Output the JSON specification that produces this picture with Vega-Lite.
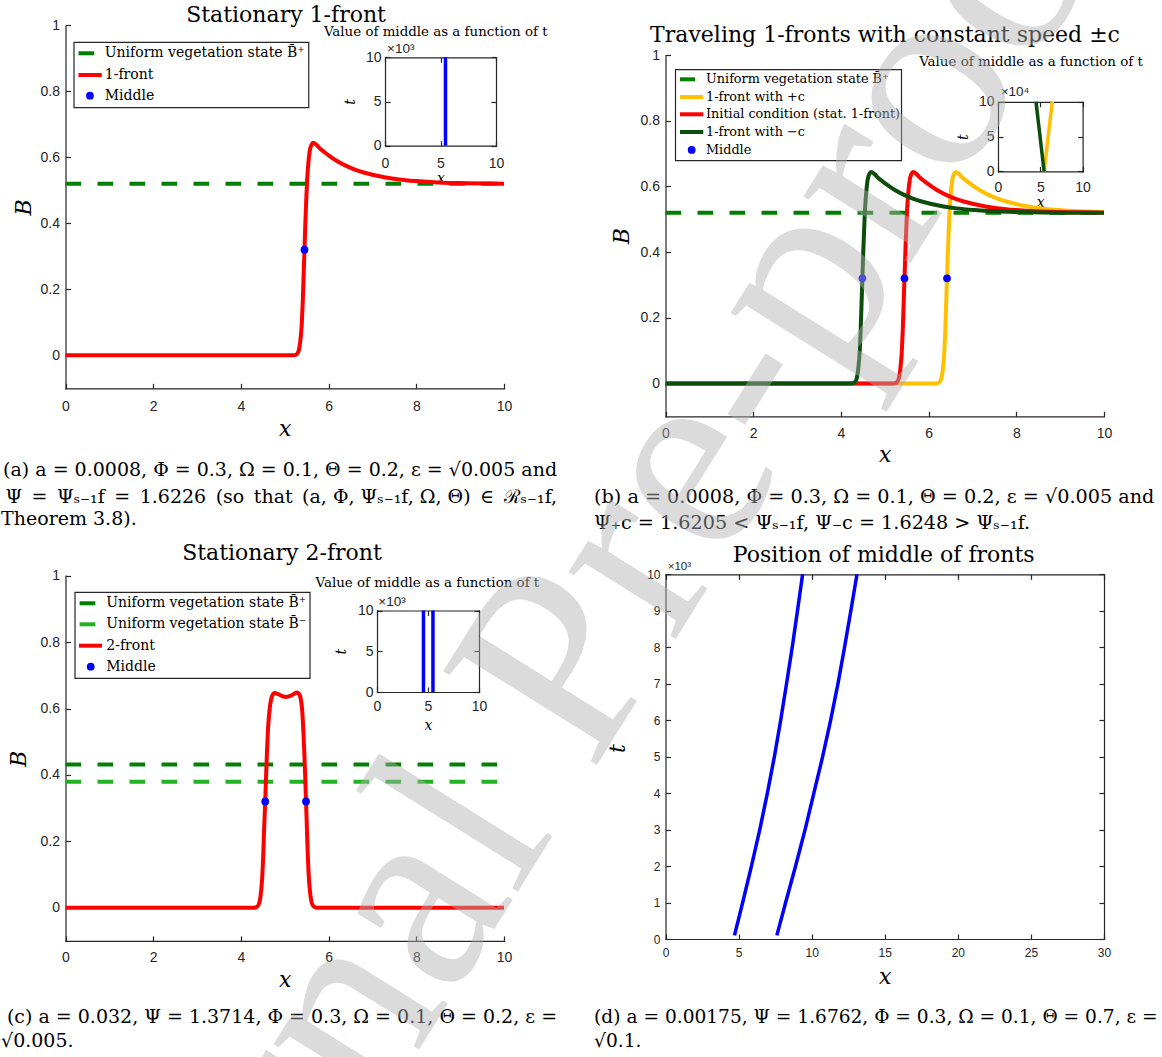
{
"$schema": "https://vega.github.io/schema/vega-lite/v6.json",
"width": 1162, "height": 1057, "autosize": {"type": "none"}, "padding": 0, "background": "#ffffff",
"datasets": {
"uniformA": [{"x":0,"y":0.52},{"x":10,"y":0.52}],
"frontA": [{"x":0,"y":0},{"x":5.2,"y":0},{"x":5.27,"y":0.003},{"x":5.32,"y":0.015},{"x":5.36,"y":0.05},{"x":5.39,"y":0.1},{"x":5.41,"y":0.16},{"x":5.43,"y":0.24},{"x":5.45,"y":0.32},{"x":5.47,"y":0.4},{"x":5.49,"y":0.47},{"x":5.51,"y":0.53},{"x":5.54,"y":0.585},{"x":5.57,"y":0.62},{"x":5.61,"y":0.638},{"x":5.65,"y":0.644},{"x":5.72,"y":0.638},{"x":5.8,"y":0.627},{"x":5.9,"y":0.616},{"x":6.0,"y":0.606},{"x":6.2,"y":0.588},{"x":6.4,"y":0.574},{"x":6.6,"y":0.563},{"x":6.8,"y":0.554},{"x":7.0,"y":0.547},{"x":7.3,"y":0.539},{"x":7.6,"y":0.533},{"x":8.0,"y":0.528},{"x":8.5,"y":0.524},{"x":9.0,"y":0.522},{"x":10,"y":0.52}],
"middleA": [{"x":5.45,"y":0.32}],
"uniformB": [{"x":0,"y":0.52},{"x":10,"y":0.52}],
"frontBplus": [{"x":0,"y":0},{"x":6.17,"y":0},{"x":6.24,"y":0.003},{"x":6.29,"y":0.015},{"x":6.33,"y":0.05},{"x":6.36,"y":0.1},{"x":6.38,"y":0.16},{"x":6.40,"y":0.24},{"x":6.42,"y":0.32},{"x":6.44,"y":0.4},{"x":6.46,"y":0.47},{"x":6.48,"y":0.53},{"x":6.51,"y":0.585},{"x":6.54,"y":0.62},{"x":6.58,"y":0.638},{"x":6.62,"y":0.644},{"x":6.69,"y":0.638},{"x":6.77,"y":0.627},{"x":6.87,"y":0.616},{"x":6.97,"y":0.606},{"x":7.17,"y":0.588},{"x":7.37,"y":0.574},{"x":7.57,"y":0.563},{"x":7.77,"y":0.554},{"x":7.97,"y":0.547},{"x":8.27,"y":0.539},{"x":8.57,"y":0.533},{"x":8.97,"y":0.528},{"x":9.47,"y":0.524},{"x":9.97,"y":0.522},{"x":10,"y":0.522}],
"frontBinit": [{"x":0,"y":0},{"x":5.2,"y":0},{"x":5.27,"y":0.003},{"x":5.32,"y":0.015},{"x":5.36,"y":0.05},{"x":5.39,"y":0.1},{"x":5.41,"y":0.16},{"x":5.43,"y":0.24},{"x":5.45,"y":0.32},{"x":5.47,"y":0.4},{"x":5.49,"y":0.47},{"x":5.51,"y":0.53},{"x":5.54,"y":0.585},{"x":5.57,"y":0.62},{"x":5.61,"y":0.638},{"x":5.65,"y":0.644},{"x":5.72,"y":0.638},{"x":5.8,"y":0.627},{"x":5.9,"y":0.616},{"x":6.0,"y":0.606},{"x":6.2,"y":0.588},{"x":6.4,"y":0.574},{"x":6.6,"y":0.563},{"x":6.8,"y":0.554},{"x":7.0,"y":0.547},{"x":7.3,"y":0.539},{"x":7.6,"y":0.533},{"x":8.0,"y":0.528},{"x":8.5,"y":0.524},{"x":9.0,"y":0.522},{"x":10,"y":0.52}],
"frontBminus": [{"x":0,"y":0},{"x":4.24,"y":0},{"x":4.31,"y":0.003},{"x":4.36,"y":0.015},{"x":4.40,"y":0.05},{"x":4.43,"y":0.1},{"x":4.45,"y":0.16},{"x":4.47,"y":0.24},{"x":4.49,"y":0.32},{"x":4.51,"y":0.4},{"x":4.53,"y":0.47},{"x":4.55,"y":0.53},{"x":4.58,"y":0.585},{"x":4.61,"y":0.62},{"x":4.65,"y":0.638},{"x":4.69,"y":0.644},{"x":4.76,"y":0.638},{"x":4.84,"y":0.627},{"x":4.94,"y":0.616},{"x":5.04,"y":0.606},{"x":5.24,"y":0.588},{"x":5.44,"y":0.574},{"x":5.64,"y":0.563},{"x":5.84,"y":0.554},{"x":6.04,"y":0.547},{"x":6.34,"y":0.539},{"x":6.64,"y":0.533},{"x":7.04,"y":0.528},{"x":7.54,"y":0.524},{"x":8.04,"y":0.522},{"x":9.04,"y":0.52},{"x":10,"y":0.52}],
"middleB": [{"x":4.49,"y":0.32},{"x":5.45,"y":0.32},{"x":6.42,"y":0.32}],
"uniformCplus": [{"x":0,"y":0.431},{"x":10,"y":0.431}],
"uniformCminus": [{"x":0,"y":0.379},{"x":10,"y":0.379}],
"frontC": [{"x":0,"y":0},{"x":4.3,"y":0},{"x":4.37,"y":0.003},{"x":4.42,"y":0.015},{"x":4.46,"y":0.05},{"x":4.49,"y":0.1},{"x":4.51,"y":0.16},{"x":4.53,"y":0.24},{"x":4.555,"y":0.32},{"x":4.575,"y":0.4},{"x":4.595,"y":0.47},{"x":4.615,"y":0.53},{"x":4.645,"y":0.585},{"x":4.68,"y":0.622},{"x":4.72,"y":0.64},{"x":4.77,"y":0.647},{"x":4.85,"y":0.643},{"x":4.95,"y":0.637},{"x":5.03,"y":0.635},{"x":5.11,"y":0.637},{"x":5.2,"y":0.643},{"x":5.28,"y":0.648},{"x":5.33,"y":0.643},{"x":5.37,"y":0.625},{"x":5.4,"y":0.59},{"x":5.425,"y":0.53},{"x":5.445,"y":0.47},{"x":5.465,"y":0.4},{"x":5.485,"y":0.32},{"x":5.505,"y":0.24},{"x":5.525,"y":0.16},{"x":5.545,"y":0.1},{"x":5.575,"y":0.05},{"x":5.615,"y":0.015},{"x":5.665,"y":0.003},{"x":5.73,"y":0},{"x":10,"y":0}],
"middleC": [{"x":4.555,"y":0.32},{"x":5.485,"y":0.32}],
"insetA": [{"x":5.45,"t":0},{"x":5.45,"t":10}],
"insetBplus": [{"x":5.45,"t":0},{"x":6.42,"t":10}],
"insetBminus": [{"x":5.45,"t":0},{"x":4.49,"t":10}],
"insetC": [{"front":"left","x":4.555,"t":0},{"front":"left","x":4.555,"t":10},{"front":"right","x":5.485,"t":0},{"front":"right","x":5.485,"t":10}],
"middleD": [{"front":"first","x":4.72,"t":0.1},{"front":"first","x":5.28,"t":1},{"front":"first","x":5.88,"t":2},{"front":"first","x":6.45,"t":3},{"front":"first","x":6.97,"t":4},{"front":"first","x":7.45,"t":5},{"front":"first","x":7.88,"t":6},{"front":"first","x":8.28,"t":7},{"front":"first","x":8.67,"t":8},{"front":"first","x":9.03,"t":9},{"front":"first","x":9.38,"t":10},
{"front":"second","x":7.62,"t":0.1},{"front":"second","x":8.22,"t":1},{"front":"second","x":8.9,"t":2},{"front":"second","x":9.55,"t":3},{"front":"second","x":10.15,"t":4},{"front":"second","x":10.75,"t":5},{"front":"second","x":11.3,"t":6},{"front":"second","x":11.8,"t":7},{"front":"second","x":12.25,"t":8},{"front":"second","x":12.68,"t":9},{"front":"second","x":13.1,"t":10}]
},
"resolve": {"scale": {"x": "independent", "y": "independent"}, "axis": {"x": "independent", "y": "independent"}},
"layer": [
{"data":{"name":"uniformA"},"mark":{"type":"point","opacity":0},
 "encoding":{"x":{"field":"x","type":"quantitative","scale":{"domain":[0,10],"range":[65.5,504],"nice":false,"zero":false},"axis":{"orient":"bottom","offset":-668.7,"values":[0,2,4,6,8,10],"format":"d","title":"x","titleY":40,"titleBaseline":"middle","labelPadding":15.9}},
  "y":{"field":"y","type":"quantitative","scale":{"domain":[-0.1,1],"range":[388.3,25.3],"nice":false,"zero":false},"axis":{"orient":"left","offset":-65.5,"values":[0,0.2,0.4,0.6,0.8,1],"format":".1~f","title":"B","titleX":-42,"titleBaseline":"middle","labelPadding":11}}}},
{"layer": [
 {"data":{"name":"uniformA"},"mark":{"type":"line","color":"#008000","strokeWidth":4,"strokeDash":[15.7,16.3]},
  "encoding":{"x":{"field":"x","type":"quantitative","scale":{"domain":[0,10],"range":[65.5,504],"nice":false,"zero":false},"axis":null},
   "y":{"field":"y","type":"quantitative","scale":{"domain":[-0.1,1],"range":[388.3,25.3],"nice":false,"zero":false},"axis":null}}},
 {"data":{"name":"frontA"},"mark":{"type":"line","color":"#ff0000","strokeWidth":4,"interpolate":"monotone"},
  "encoding":{"x":{"field":"x","type":"quantitative","scale":{"domain":[0,10],"range":[65.5,504],"nice":false,"zero":false},"axis":null},
   "y":{"field":"y","type":"quantitative","scale":{"domain":[-0.1,1],"range":[388.3,25.3],"nice":false,"zero":false},"axis":null}}},
 {"data":{"name":"middleA"},"mark":{"type":"point","filled":true,"color":"#0000ff","size":60,"opacity":1},
  "encoding":{"x":{"field":"x","type":"quantitative","scale":{"domain":[0,10],"range":[65.5,504],"nice":false,"zero":false},"axis":null},
   "y":{"field":"y","type":"quantitative","scale":{"domain":[-0.1,1],"range":[388.3,25.3],"nice":false,"zero":false},"axis":null}}},
 {"data":{"values":[{}]},"mark":{"type":"rect","fill":"#ffffff","stroke":"#262626","strokeWidth":1.2},
  "encoding":{"x":{"datum":0.194,"type":"quantitative","scale":{"domain":[0,10],"range":[65.5,504],"nice":false,"zero":false},"axis":null},"x2":{"datum":5.547},
   "y":{"datum":0.9485,"type":"quantitative","scale":{"domain":[-0.1,1],"range":[388.3,25.3],"nice":false,"zero":false},"axis":null},"y2":{"datum":0.7503}}},
 {"data":{"values":[{}]},"mark":{"type":"rule","color":"#008000","strokeWidth":4,"strokeDash":[15.7,16.3]},
  "encoding":{"x":{"datum":0.296,"type":"quantitative","scale":{"domain":[0,10],"range":[65.5,504],"nice":false,"zero":false},"axis":null},"x2":{"datum":0.718},
   "y":{"datum":0.9152,"type":"quantitative","scale":{"domain":[-0.1,1],"range":[388.3,25.3],"nice":false,"zero":false},"axis":null}}},
 {"data":{"values":[{}]},"mark":{"type":"rule","color":"#ff0000","strokeWidth":4},
  "encoding":{"x":{"datum":0.296,"type":"quantitative","scale":{"domain":[0,10],"range":[65.5,504],"nice":false,"zero":false},"axis":null},"x2":{"datum":0.827},
   "y":{"datum":0.8494,"type":"quantitative","scale":{"domain":[-0.1,1],"range":[388.3,25.3],"nice":false,"zero":false},"axis":null}}},
 {"data":{"values":[{}]},"mark":{"type":"point","filled":true,"color":"#0000ff","size":60,"opacity":1},
  "encoding":{"x":{"datum":0.558,"type":"quantitative","scale":{"domain":[0,10],"range":[65.5,504],"nice":false,"zero":false},"axis":null},
   "y":{"datum":0.7867,"type":"quantitative","scale":{"domain":[-0.1,1],"range":[388.3,25.3],"nice":false,"zero":false},"axis":null}}},
 {"data":{"values":[{}]},"mark":{"type":"text","text":"Uniform vegetation state B\u0304\u207a","font":"DejaVu Serif","fontSize":14,"align":"left","baseline":"middle"},
  "encoding":{"x":{"datum":0.895,"type":"quantitative","scale":{"domain":[0,10],"range":[65.5,504],"nice":false,"zero":false},"axis":null},
   "y":{"datum":0.9152,"type":"quantitative","scale":{"domain":[-0.1,1],"range":[388.3,25.3],"nice":false,"zero":false},"axis":null}}},
 {"data":{"values":[{}]},"mark":{"type":"text","text":"1-front","font":"DejaVu Serif","fontSize":14,"align":"left","baseline":"middle"},
  "encoding":{"x":{"datum":0.895,"type":"quantitative","scale":{"domain":[0,10],"range":[65.5,504],"nice":false,"zero":false},"axis":null},
   "y":{"datum":0.8494,"type":"quantitative","scale":{"domain":[-0.1,1],"range":[388.3,25.3],"nice":false,"zero":false},"axis":null}}},
 {"data":{"values":[{}]},"mark":{"type":"text","text":"Middle","font":"DejaVu Serif","fontSize":14,"align":"left","baseline":"middle"},
  "encoding":{"x":{"datum":0.895,"type":"quantitative","scale":{"domain":[0,10],"range":[65.5,504],"nice":false,"zero":false},"axis":null},
   "y":{"datum":0.7867,"type":"quantitative","scale":{"domain":[-0.1,1],"range":[388.3,25.3],"nice":false,"zero":false},"axis":null}}},
 {"data":{"values":[{}]},"mark":{"type":"text","text":"Stationary 1-front","font":"DejaVu Serif","fontSize":22,"align":"center","baseline":"middle"},
  "encoding":{"x":{"datum":5.03,"type":"quantitative","scale":{"domain":[0,10],"range":[65.5,504],"nice":false,"zero":false},"axis":null},
   "y":{"datum":1.031,"type":"quantitative","scale":{"domain":[-0.1,1],"range":[388.3,25.3],"nice":false,"zero":false},"axis":null}}},
 {"data":{"values":[{}]},"mark":{"type":"text","text":"(a)   a = 0.0008, Φ = 0.3, Ω = 0.1, Θ = 0.2, ε = √0.005 and","font":"DejaVu Serif","fontSize":19,"align":"right","baseline":"middle"},
  "encoding":{"x":{"datum":11.21,"type":"quantitative","scale":{"domain":[0,10],"range":[65.5,504],"nice":false,"zero":false},"axis":null},
   "y":{"datum":-0.3476,"type":"quantitative","scale":{"domain":[-0.1,1],"range":[388.3,25.3],"nice":false,"zero":false},"axis":null}}},
 {"data":{"values":[{}]},"mark":{"type":"text","text":"Ψ\u2002=\u2002Ψₛ₋₁f\u2002=\u20021.6226\u2002(so\u2002that\u2002(a, Φ, Ψₛ₋₁f, Ω, Θ)\u2002∈\u2002ℛₛ₋₁f,","font":"DejaVu Serif","fontSize":19,"align":"right","baseline":"middle"},
  "encoding":{"x":{"datum":11.21,"type":"quantitative","scale":{"domain":[0,10],"range":[65.5,504],"nice":false,"zero":false},"axis":null},
   "y":{"datum":-0.4279,"type":"quantitative","scale":{"domain":[-0.1,1],"range":[388.3,25.3],"nice":false,"zero":false},"axis":null}}},
 {"data":{"values":[{}]},"mark":{"type":"text","text":"Theorem 3.8).","font":"DejaVu Serif","fontSize":19,"align":"left","baseline":"middle"},
  "encoding":{"x":{"datum":-1.47,"type":"quantitative","scale":{"domain":[0,10],"range":[65.5,504],"nice":false,"zero":false},"axis":null},
   "y":{"datum":-0.4961,"type":"quantitative","scale":{"domain":[-0.1,1],"range":[388.3,25.3],"nice":false,"zero":false},"axis":null}}}
]},
{"data":{"name":"uniformB"},"mark":{"type":"point","opacity":0},
 "encoding":{"x":{"field":"x","type":"quantitative","scale":{"domain":[0,10],"range":[665.5,1104],"nice":false,"zero":false},"axis":{"orient":"bottom","offset":-640.7,"values":[0,2,4,6,8,10],"format":"d","title":"x","titleY":37.7,"titleBaseline":"middle","labelPadding":15}},
  "y":{"field":"y","type":"quantitative","scale":{"domain":[-0.1,1],"range":[416.3,55],"nice":false,"zero":false},"axis":{"orient":"left","offset":-665.5,"values":[0,0.2,0.4,0.6,0.8,1],"format":".1~f","title":"B","titleX":-44.5,"titleBaseline":"middle","labelPadding":11}}}},
{"layer": [
 {"data":{"name":"uniformB"},"mark":{"type":"line","color":"#008000","strokeWidth":4,"strokeDash":[15.7,16.3]},
  "encoding":{"x":{"field":"x","type":"quantitative","scale":{"domain":[0,10],"range":[665.5,1104],"nice":false,"zero":false},"axis":null},
   "y":{"field":"y","type":"quantitative","scale":{"domain":[-0.1,1],"range":[416.3,55],"nice":false,"zero":false},"axis":null}}},
 {"data":{"name":"frontBplus"},"mark":{"type":"line","color":"#ffc000","strokeWidth":4,"interpolate":"monotone"},
  "encoding":{"x":{"field":"x","type":"quantitative","scale":{"domain":[0,10],"range":[665.5,1104],"nice":false,"zero":false},"axis":null},
   "y":{"field":"y","type":"quantitative","scale":{"domain":[-0.1,1],"range":[416.3,55],"nice":false,"zero":false},"axis":null}}},
 {"data":{"name":"frontBinit"},"mark":{"type":"line","color":"#ff0000","strokeWidth":4,"interpolate":"monotone"},
  "encoding":{"x":{"field":"x","type":"quantitative","scale":{"domain":[0,10],"range":[665.5,1104],"nice":false,"zero":false},"axis":null},
   "y":{"field":"y","type":"quantitative","scale":{"domain":[-0.1,1],"range":[416.3,55],"nice":false,"zero":false},"axis":null}}},
 {"data":{"name":"frontBminus"},"mark":{"type":"line","color":"#0b4d0b","strokeWidth":4,"interpolate":"monotone"},
  "encoding":{"x":{"field":"x","type":"quantitative","scale":{"domain":[0,10],"range":[665.5,1104],"nice":false,"zero":false},"axis":null},
   "y":{"field":"y","type":"quantitative","scale":{"domain":[-0.1,1],"range":[416.3,55],"nice":false,"zero":false},"axis":null}}},
 {"data":{"name":"middleB"},"mark":{"type":"point","filled":true,"color":"#0000ff","size":60,"opacity":1},
  "encoding":{"x":{"field":"x","type":"quantitative","scale":{"domain":[0,10],"range":[665.5,1104],"nice":false,"zero":false},"axis":null},
   "y":{"field":"y","type":"quantitative","scale":{"domain":[-0.1,1],"range":[416.3,55],"nice":false,"zero":false},"axis":null}}},
 {"data":{"values":[{}]},"mark":{"type":"rect","fill":"#ffffff","stroke":"#262626","strokeWidth":1.2},
  "encoding":{"x":{"datum":0.228,"type":"quantitative","scale":{"domain":[0,10],"range":[665.5,1104],"nice":false,"zero":false},"axis":null},"x2":{"datum":5.382},
   "y":{"datum":0.9556,"type":"quantitative","scale":{"domain":[-0.1,1],"range":[416.3,55],"nice":false,"zero":false},"axis":null},"y2":{"datum":0.6782}}},
 {"data":{"values":[{}]},"mark":{"type":"rule","color":"#008000","strokeWidth":4,"strokeDash":[15.7,16.3]},
  "encoding":{"x":{"datum":0.33,"type":"quantitative","scale":{"domain":[0,10],"range":[665.5,1104],"nice":false,"zero":false},"axis":null},"x2":{"datum":0.673},
   "y":{"datum":0.926,"type":"quantitative","scale":{"domain":[-0.1,1],"range":[416.3,55],"nice":false,"zero":false},"axis":null}}},
 {"data":{"values":[{}]},"mark":{"type":"rule","color":"#ffc000","strokeWidth":4},
  "encoding":{"x":{"datum":0.33,"type":"quantitative","scale":{"domain":[0,10],"range":[665.5,1104],"nice":false,"zero":false},"axis":null},"x2":{"datum":0.862},
   "y":{"datum":0.872,"type":"quantitative","scale":{"domain":[-0.1,1],"range":[416.3,55],"nice":false,"zero":false},"axis":null}}},
 {"data":{"values":[{}]},"mark":{"type":"rule","color":"#ff0000","strokeWidth":4},
  "encoding":{"x":{"datum":0.33,"type":"quantitative","scale":{"domain":[0,10],"range":[665.5,1104],"nice":false,"zero":false},"axis":null},"x2":{"datum":0.862},
   "y":{"datum":0.8195,"type":"quantitative","scale":{"domain":[-0.1,1],"range":[416.3,55],"nice":false,"zero":false},"axis":null}}},
 {"data":{"values":[{}]},"mark":{"type":"rule","color":"#0b4d0b","strokeWidth":4},
  "encoding":{"x":{"datum":0.33,"type":"quantitative","scale":{"domain":[0,10],"range":[665.5,1104],"nice":false,"zero":false},"axis":null},"x2":{"datum":0.862},
   "y":{"datum":0.7656,"type":"quantitative","scale":{"domain":[-0.1,1],"range":[416.3,55],"nice":false,"zero":false},"axis":null}}},
 {"data":{"values":[{}]},"mark":{"type":"point","filled":true,"color":"#0000ff","size":60,"opacity":1},
  "encoding":{"x":{"datum":0.597,"type":"quantitative","scale":{"domain":[0,10],"range":[665.5,1104],"nice":false,"zero":false},"axis":null},
   "y":{"datum":0.7108,"type":"quantitative","scale":{"domain":[-0.1,1],"range":[416.3,55],"nice":false,"zero":false},"axis":null}}},
 {"data":{"values":[{}]},"mark":{"type":"text","text":"Uniform vegetation state B\u0304\u207a","font":"DejaVu Serif","fontSize":12.8,"align":"left","baseline":"middle"},
  "encoding":{"x":{"datum":0.924,"type":"quantitative","scale":{"domain":[0,10],"range":[665.5,1104],"nice":false,"zero":false},"axis":null},
   "y":{"datum":0.926,"type":"quantitative","scale":{"domain":[-0.1,1],"range":[416.3,55],"nice":false,"zero":false},"axis":null}}},
 {"data":{"values":[{}]},"mark":{"type":"text","text":"1-front with +c","font":"DejaVu Serif","fontSize":12.8,"align":"left","baseline":"middle"},
  "encoding":{"x":{"datum":0.924,"type":"quantitative","scale":{"domain":[0,10],"range":[665.5,1104],"nice":false,"zero":false},"axis":null},
   "y":{"datum":0.872,"type":"quantitative","scale":{"domain":[-0.1,1],"range":[416.3,55],"nice":false,"zero":false},"axis":null}}},
 {"data":{"values":[{}]},"mark":{"type":"text","text":"Initial condition (stat. 1-front)","font":"DejaVu Serif","fontSize":12.8,"align":"left","baseline":"middle"},
  "encoding":{"x":{"datum":0.924,"type":"quantitative","scale":{"domain":[0,10],"range":[665.5,1104],"nice":false,"zero":false},"axis":null},
   "y":{"datum":0.8195,"type":"quantitative","scale":{"domain":[-0.1,1],"range":[416.3,55],"nice":false,"zero":false},"axis":null}}},
 {"data":{"values":[{}]},"mark":{"type":"text","text":"1-front with −c","font":"DejaVu Serif","fontSize":12.8,"align":"left","baseline":"middle"},
  "encoding":{"x":{"datum":0.924,"type":"quantitative","scale":{"domain":[0,10],"range":[665.5,1104],"nice":false,"zero":false},"axis":null},
   "y":{"datum":0.7656,"type":"quantitative","scale":{"domain":[-0.1,1],"range":[416.3,55],"nice":false,"zero":false},"axis":null}}},
 {"data":{"values":[{}]},"mark":{"type":"text","text":"Middle","font":"DejaVu Serif","fontSize":12.8,"align":"left","baseline":"middle"},
  "encoding":{"x":{"datum":0.924,"type":"quantitative","scale":{"domain":[0,10],"range":[665.5,1104],"nice":false,"zero":false},"axis":null},
   "y":{"datum":0.7108,"type":"quantitative","scale":{"domain":[-0.1,1],"range":[416.3,55],"nice":false,"zero":false},"axis":null}}},
 {"data":{"values":[{}]},"mark":{"type":"text","text":"Traveling 1-fronts with constant speed ±c","font":"DejaVu Serif","fontSize":22,"align":"center","baseline":"middle"},
  "encoding":{"x":{"datum":5.006,"type":"quantitative","scale":{"domain":[0,10],"range":[665.5,1104],"nice":false,"zero":false},"axis":null},
   "y":{"datum":1.0609,"type":"quantitative","scale":{"domain":[-0.1,1],"range":[416.3,55],"nice":false,"zero":false},"axis":null}}},
 {"data":{"values":[{}]},"mark":{"type":"text","text":"(b)   a = 0.0008, Φ = 0.3, Ω = 0.1, Θ = 0.2, ε = √0.005 and","font":"DejaVu Serif","fontSize":19.2,"align":"left","baseline":"middle"},
  "encoding":{"x":{"datum":-1.63,"type":"quantitative","scale":{"domain":[0,10],"range":[665.5,1104],"nice":false,"zero":false},"axis":null},
   "y":{"datum":-0.3442,"type":"quantitative","scale":{"domain":[-0.1,1],"range":[416.3,55],"nice":false,"zero":false},"axis":null}}},
 {"data":{"values":[{}]},"mark":{"type":"text","text":"Ψ₊c = 1.6205 < Ψₛ₋₁f, Ψ₋c = 1.6248 > Ψₛ₋₁f.","font":"DejaVu Serif","fontSize":19.2,"align":"left","baseline":"middle"},
  "encoding":{"x":{"datum":-1.63,"type":"quantitative","scale":{"domain":[0,10],"range":[665.5,1104],"nice":false,"zero":false},"axis":null},
   "y":{"datum":-0.4249,"type":"quantitative","scale":{"domain":[-0.1,1],"range":[416.3,55],"nice":false,"zero":false},"axis":null}}}
]},
{"data":{"name":"uniformCplus"},"mark":{"type":"point","opacity":0},
 "encoding":{"x":{"field":"x","type":"quantitative","scale":{"domain":[0,10],"range":[65.5,504],"nice":false,"zero":false},"axis":{"orient":"bottom","offset":-116.1,"values":[0,2,4,6,8,10],"format":"d","title":"x","titleY":39,"titleBaseline":"middle","labelPadding":15}},
  "y":{"field":"y","type":"quantitative","scale":{"domain":[-0.1,1],"range":[940.9,575.7],"nice":false,"zero":false},"axis":{"orient":"left","offset":-65.5,"values":[0,0.2,0.4,0.6,0.8,1],"format":".1~f","title":"B","titleX":-47,"titleBaseline":"middle","labelPadding":11}}}},
{"layer": [
 {"data":{"name":"uniformCplus"},"mark":{"type":"line","color":"#008000","strokeWidth":4,"strokeDash":[15.7,16.3]},
  "encoding":{"x":{"field":"x","type":"quantitative","scale":{"domain":[0,10],"range":[65.5,504],"nice":false,"zero":false},"axis":null},
   "y":{"field":"y","type":"quantitative","scale":{"domain":[-0.1,1],"range":[940.9,575.7],"nice":false,"zero":false},"axis":null}}},
 {"data":{"name":"uniformCminus"},"mark":{"type":"line","color":"#1fb31f","strokeWidth":4,"strokeDash":[15.7,16.3]},
  "encoding":{"x":{"field":"x","type":"quantitative","scale":{"domain":[0,10],"range":[65.5,504],"nice":false,"zero":false},"axis":null},
   "y":{"field":"y","type":"quantitative","scale":{"domain":[-0.1,1],"range":[940.9,575.7],"nice":false,"zero":false},"axis":null}}},
 {"data":{"name":"frontC"},"mark":{"type":"line","color":"#ff0000","strokeWidth":4,"interpolate":"monotone"},
  "encoding":{"x":{"field":"x","type":"quantitative","scale":{"domain":[0,10],"range":[65.5,504],"nice":false,"zero":false},"axis":null},
   "y":{"field":"y","type":"quantitative","scale":{"domain":[-0.1,1],"range":[940.9,575.7],"nice":false,"zero":false},"axis":null}}},
 {"data":{"name":"middleC"},"mark":{"type":"point","filled":true,"color":"#0000ff","size":60,"opacity":1},
  "encoding":{"x":{"field":"x","type":"quantitative","scale":{"domain":[0,10],"range":[65.5,504],"nice":false,"zero":false},"axis":null},
   "y":{"field":"y","type":"quantitative","scale":{"domain":[-0.1,1],"range":[940.9,575.7],"nice":false,"zero":false},"axis":null}}},
 {"data":{"values":[{}]},"mark":{"type":"rect","fill":"#ffffff","stroke":"#262626","strokeWidth":1.2},
  "encoding":{"x":{"datum":0.217,"type":"quantitative","scale":{"domain":[0,10],"range":[65.5,504],"nice":false,"zero":false},"axis":null},"x2":{"datum":5.576},
   "y":{"datum":0.95,"type":"quantitative","scale":{"domain":[-0.1,1],"range":[940.9,575.7],"nice":false,"zero":false},"axis":null},"y2":{"datum":0.691}}},
 {"data":{"values":[{}]},"mark":{"type":"rule","color":"#008000","strokeWidth":4,"strokeDash":[15.7,16.3]},
  "encoding":{"x":{"datum":0.322,"type":"quantitative","scale":{"domain":[0,10],"range":[65.5,504],"nice":false,"zero":false},"axis":null},"x2":{"datum":0.702},
   "y":{"datum":0.9169,"type":"quantitative","scale":{"domain":[-0.1,1],"range":[940.9,575.7],"nice":false,"zero":false},"axis":null}}},
 {"data":{"values":[{}]},"mark":{"type":"rule","color":"#1fb31f","strokeWidth":4,"strokeDash":[15.7,16.3]},
  "encoding":{"x":{"datum":0.322,"type":"quantitative","scale":{"domain":[0,10],"range":[65.5,504],"nice":false,"zero":false},"axis":null},"x2":{"datum":0.702},
   "y":{"datum":0.8536,"type":"quantitative","scale":{"domain":[-0.1,1],"range":[940.9,575.7],"nice":false,"zero":false},"axis":null}}},
 {"data":{"values":[{}]},"mark":{"type":"rule","color":"#ff0000","strokeWidth":4},
  "encoding":{"x":{"datum":0.308,"type":"quantitative","scale":{"domain":[0,10],"range":[65.5,504],"nice":false,"zero":false},"axis":null},"x2":{"datum":0.832},
   "y":{"datum":0.7892,"type":"quantitative","scale":{"domain":[-0.1,1],"range":[940.9,575.7],"nice":false,"zero":false},"axis":null}}},
 {"data":{"values":[{}]},"mark":{"type":"point","filled":true,"color":"#0000ff","size":60,"opacity":1},
  "encoding":{"x":{"datum":0.575,"type":"quantitative","scale":{"domain":[0,10],"range":[65.5,504],"nice":false,"zero":false},"axis":null},
   "y":{"datum":0.7259,"type":"quantitative","scale":{"domain":[-0.1,1],"range":[940.9,575.7],"nice":false,"zero":false},"axis":null}}},
 {"data":{"values":[{}]},"mark":{"type":"text","text":"Uniform vegetation state B\u0304\u207a","font":"DejaVu Serif","fontSize":14,"align":"left","baseline":"middle"},
  "encoding":{"x":{"datum":0.93,"type":"quantitative","scale":{"domain":[0,10],"range":[65.5,504],"nice":false,"zero":false},"axis":null},
   "y":{"datum":0.9169,"type":"quantitative","scale":{"domain":[-0.1,1],"range":[940.9,575.7],"nice":false,"zero":false},"axis":null}}},
 {"data":{"values":[{}]},"mark":{"type":"text","text":"Uniform vegetation state B\u0304\u207b","font":"DejaVu Serif","fontSize":14,"align":"left","baseline":"middle"},
  "encoding":{"x":{"datum":0.93,"type":"quantitative","scale":{"domain":[0,10],"range":[65.5,504],"nice":false,"zero":false},"axis":null},
   "y":{"datum":0.8536,"type":"quantitative","scale":{"domain":[-0.1,1],"range":[940.9,575.7],"nice":false,"zero":false},"axis":null}}},
 {"data":{"values":[{}]},"mark":{"type":"text","text":"2-front","font":"DejaVu Serif","fontSize":14,"align":"left","baseline":"middle"},
  "encoding":{"x":{"datum":0.93,"type":"quantitative","scale":{"domain":[0,10],"range":[65.5,504],"nice":false,"zero":false},"axis":null},
   "y":{"datum":0.7892,"type":"quantitative","scale":{"domain":[-0.1,1],"range":[940.9,575.7],"nice":false,"zero":false},"axis":null}}},
 {"data":{"values":[{}]},"mark":{"type":"text","text":"Middle","font":"DejaVu Serif","fontSize":14,"align":"left","baseline":"middle"},
  "encoding":{"x":{"datum":0.93,"type":"quantitative","scale":{"domain":[0,10],"range":[65.5,504],"nice":false,"zero":false},"axis":null},
   "y":{"datum":0.7259,"type":"quantitative","scale":{"domain":[-0.1,1],"range":[940.9,575.7],"nice":false,"zero":false},"axis":null}}},
 {"data":{"values":[{}]},"mark":{"type":"text","text":"Stationary 2-front","font":"DejaVu Serif","fontSize":22,"align":"center","baseline":"middle"},
  "encoding":{"x":{"datum":4.937,"type":"quantitative","scale":{"domain":[0,10],"range":[65.5,504],"nice":false,"zero":false},"axis":null},
   "y":{"datum":1.0684,"type":"quantitative","scale":{"domain":[-0.1,1],"range":[940.9,575.7],"nice":false,"zero":false},"axis":null}}},
 {"data":{"values":[{}]},"mark":{"type":"text","text":"(c)   a = 0.032, Ψ = 1.3714, Φ = 0.3, Ω = 0.1, Θ = 0.2, ε =","font":"DejaVu Serif","fontSize":19,"align":"right","baseline":"middle"},
  "encoding":{"x":{"datum":11.21,"type":"quantitative","scale":{"domain":[0,10],"range":[65.5,504],"nice":false,"zero":false},"axis":null},
   "y":{"datum":-0.3292,"type":"quantitative","scale":{"domain":[-0.1,1],"range":[940.9,575.7],"nice":false,"zero":false},"axis":null}}},
 {"data":{"values":[{}]},"mark":{"type":"text","text":"√0.005.","font":"DejaVu Serif","fontSize":19,"align":"left","baseline":"middle"},
  "encoding":{"x":{"datum":-1.47,"type":"quantitative","scale":{"domain":[0,10],"range":[65.5,504],"nice":false,"zero":false},"axis":null},
   "y":{"datum":-0.4015,"type":"quantitative","scale":{"domain":[-0.1,1],"range":[940.9,575.7],"nice":false,"zero":false},"axis":null}}}
]},
{"data":{"name":"middleD"},"mark":{"type":"point","opacity":0},
 "encoding":{"x":{"field":"x","type":"quantitative","scale":{"domain":[0,30],"range":[665.5,1104],"nice":false,"zero":false},"axis":{"orient":"bottom","offset":-118,"values":[0,5,10,15,20,25,30],"format":"d","title":"x","titleY":37.7,"titleBaseline":"middle","labelPadding":13,"labelFontSize":12}},
  "y":{"field":"t","type":"quantitative","scale":{"domain":[0,10],"range":[939,574.3],"nice":false,"zero":false},"axis":{"orient":"left","offset":-665.5,"values":[0,1,2,3,4,5,6,7,8,9,10],"format":"d","title":"t","titleX":-48.5,"titleY":748,"titleBaseline":"middle","labelPadding":10.5,"labelFontSize":12}}}},
{"data":{"name":"middleD"},"mark":{"type":"point","opacity":0},
 "encoding":{"x":{"field":"x","type":"quantitative","scale":{"domain":[0,30],"range":[665.5,1104],"nice":false,"zero":false},"axis":{"orient":"top","offset":-574.3,"values":[0,5,10,15,20,25,30],"labels":false,"title":null}},
  "y":{"field":"t","type":"quantitative","scale":{"domain":[0,10],"range":[939,574.3],"nice":false,"zero":false},"axis":{"orient":"right","offset":-58,"values":[0,1,2,3,4,5,6,7,8,9,10],"labels":false,"title":null}}}},
{"layer": [
 {"data":{"name":"middleD"},"mark":{"type":"line","color":"#0000ff","strokeWidth":3.5},
  "encoding":{"x":{"field":"x","type":"quantitative","scale":{"domain":[0,30],"range":[665.5,1104],"nice":false,"zero":false},"axis":null},
   "y":{"field":"t","type":"quantitative","scale":{"domain":[0,10],"range":[939,574.3],"nice":false,"zero":false},"axis":null},
   "detail":{"field":"front"},"order":{"field":"t"}}},
 {"data":{"values":[{}]},"mark":{"type":"text","text":"×10³","font":"Liberation Sans","fontSize":11.5,"color":"#262626","align":"left","baseline":"middle"},
  "encoding":{"x":{"datum":0.15,"type":"quantitative","scale":{"domain":[0,30],"range":[665.5,1104],"nice":false,"zero":false},"axis":null},
   "y":{"datum":10.2,"type":"quantitative","scale":{"domain":[0,10],"range":[939,574.3],"nice":false,"zero":false},"axis":null}}},
 {"data":{"values":[{}]},"mark":{"type":"text","text":"Position of middle of fronts","font":"DejaVu Serif","fontSize":22,"align":"center","baseline":"middle"},
  "encoding":{"x":{"datum":14.93,"type":"quantitative","scale":{"domain":[0,30],"range":[665.5,1104],"nice":false,"zero":false},"axis":null},
   "y":{"datum":10.53,"type":"quantitative","scale":{"domain":[0,10],"range":[939,574.3],"nice":false,"zero":false},"axis":null}}},
 {"data":{"values":[{}]},"mark":{"type":"text","text":"(d)   a = 0.00175, Ψ = 1.6762, Φ = 0.3, Ω = 0.1, Θ = 0.7, ε =","font":"DejaVu Serif","fontSize":18.6,"align":"left","baseline":"middle"},
  "encoding":{"x":{"datum":-4.886,"type":"quantitative","scale":{"domain":[0,30],"range":[665.5,1104],"nice":false,"zero":false},"axis":null},
   "y":{"datum":-2.139,"type":"quantitative","scale":{"domain":[0,10],"range":[939,574.3],"nice":false,"zero":false},"axis":null}}},
 {"data":{"values":[{}]},"mark":{"type":"text","text":"√0.1.","font":"DejaVu Serif","fontSize":18.6,"align":"left","baseline":"middle"},
  "encoding":{"x":{"datum":-4.886,"type":"quantitative","scale":{"domain":[0,30],"range":[665.5,1104],"nice":false,"zero":false},"axis":null},
   "y":{"datum":-2.797,"type":"quantitative","scale":{"domain":[0,10],"range":[939,574.3],"nice":false,"zero":false},"axis":null}}}
]},
{"data":{"name":"insetA"},"mark":{"type":"point","opacity":0},
 "encoding":{"x":{"field":"x","type":"quantitative","scale":{"domain":[0,10],"range":[385,496],"nice":false,"zero":false},"axis":{"orient":"bottom","offset":-911.3,"values":[0,5,10],"format":"d","title":"x","titleY":33,"titleBaseline":"middle","titleFontSize":14,"labelPadding":15.8}},
  "y":{"field":"t","type":"quantitative","scale":{"domain":[0,10],"range":[145.7,57.3],"nice":false,"zero":false},"axis":{"orient":"left","offset":-385,"values":[0,5,10],"format":"d","title":"t","titleX":-35,"titleBaseline":"middle","titleFontSize":14,"labelPadding":9}}}},
{"data":{"name":"insetA"},"mark":{"type":"point","opacity":0},
 "encoding":{"x":{"field":"x","type":"quantitative","scale":{"domain":[0,10],"range":[385,496],"nice":false,"zero":false},"axis":{"orient":"top","offset":-57.3,"values":[0,5,10],"labels":false,"title":null}},
  "y":{"field":"t","type":"quantitative","scale":{"domain":[0,10],"range":[145.7,57.3],"nice":false,"zero":false},"axis":{"orient":"right","offset":-666,"values":[0,5,10],"labels":false,"title":null}}}},
{"layer": [
 {"data":{"name":"insetA"},"mark":{"type":"line","color":"#0000ff","strokeWidth":3.5},
  "encoding":{"x":{"field":"x","type":"quantitative","scale":{"domain":[0,10],"range":[385,496],"nice":false,"zero":false},"axis":null},
   "y":{"field":"t","type":"quantitative","scale":{"domain":[0,10],"range":[145.7,57.3],"nice":false,"zero":false},"axis":null},
   "order":{"field":"t"}}},
 {"data":{"values":[{}]},"mark":{"type":"text","text":"Value of middle as a function of t","font":"DejaVu Serif","fontSize":13.4,"align":"center","baseline":"middle"},
  "encoding":{"x":{"datum":4.57,"type":"quantitative","scale":{"domain":[0,10],"range":[385,496],"nice":false,"zero":false},"axis":null},
   "y":{"datum":12.83,"type":"quantitative","scale":{"domain":[0,10],"range":[145.7,57.3],"nice":false,"zero":false},"axis":null}}},
 {"data":{"values":[{}]},"mark":{"type":"text","text":"×10³","font":"Liberation Sans","fontSize":13.5,"color":"#262626","align":"left","baseline":"middle"},
  "encoding":{"x":{"datum":0.18,"type":"quantitative","scale":{"domain":[0,10],"range":[385,496],"nice":false,"zero":false},"axis":null},
   "y":{"datum":10.94,"type":"quantitative","scale":{"domain":[0,10],"range":[145.7,57.3],"nice":false,"zero":false},"axis":null}}}
]},
{"data":{"name":"insetBplus"},"mark":{"type":"point","opacity":0},
 "encoding":{"x":{"field":"x","type":"quantitative","scale":{"domain":[0,10],"range":[998,1082.6],"nice":false,"zero":false},"axis":{"orient":"bottom","offset":-885.6,"values":[0,5,10],"format":"d","title":"x","titleY":31,"titleBaseline":"middle","titleFontSize":14,"labelPadding":14.2}},
  "y":{"field":"t","type":"quantitative","scale":{"domain":[0,10],"range":[171.4,101.8],"nice":false,"zero":false},"axis":{"orient":"left","offset":-998,"values":[0,5,10],"format":"d","title":"t","titleX":-35,"titleBaseline":"middle","titleFontSize":14,"labelPadding":9}}}},
{"data":{"name":"insetBplus"},"mark":{"type":"point","opacity":0},
 "encoding":{"x":{"field":"x","type":"quantitative","scale":{"domain":[0,10],"range":[998,1082.6],"nice":false,"zero":false},"axis":{"orient":"top","offset":-101.8,"values":[0,5,10],"labels":false,"title":null}},
  "y":{"field":"t","type":"quantitative","scale":{"domain":[0,10],"range":[171.4,101.8],"nice":false,"zero":false},"axis":{"orient":"right","offset":-79.4,"values":[0,5,10],"labels":false,"title":null}}}},
{"layer": [
 {"data":{"name":"insetBplus"},"mark":{"type":"line","color":"#ffc000","strokeWidth":3.5},
  "encoding":{"x":{"field":"x","type":"quantitative","scale":{"domain":[0,10],"range":[998,1082.6],"nice":false,"zero":false},"axis":null},
   "y":{"field":"t","type":"quantitative","scale":{"domain":[0,10],"range":[171.4,101.8],"nice":false,"zero":false},"axis":null},
   "order":{"field":"t"}}},
 {"data":{"name":"insetBminus"},"mark":{"type":"line","color":"#0b4d0b","strokeWidth":3.5},
  "encoding":{"x":{"field":"x","type":"quantitative","scale":{"domain":[0,10],"range":[998,1082.6],"nice":false,"zero":false},"axis":null},
   "y":{"field":"t","type":"quantitative","scale":{"domain":[0,10],"range":[171.4,101.8],"nice":false,"zero":false},"axis":null},
   "order":{"field":"t"}}},
 {"data":{"values":[{}]},"mark":{"type":"text","text":"Value of middle as a function of t","font":"DejaVu Serif","fontSize":13.4,"align":"center","baseline":"middle"},
  "encoding":{"x":{"datum":3.9,"type":"quantitative","scale":{"domain":[0,10],"range":[998,1082.6],"nice":false,"zero":false},"axis":null},
   "y":{"datum":15.65,"type":"quantitative","scale":{"domain":[0,10],"range":[171.4,101.8],"nice":false,"zero":false},"axis":null}}},
 {"data":{"values":[{}]},"mark":{"type":"text","text":"×10⁴","font":"Liberation Sans","fontSize":13.5,"color":"#262626","align":"left","baseline":"middle"},
  "encoding":{"x":{"datum":0.32,"type":"quantitative","scale":{"domain":[0,10],"range":[998,1082.6],"nice":false,"zero":false},"axis":null},
   "y":{"datum":11.4,"type":"quantitative","scale":{"domain":[0,10],"range":[171.4,101.8],"nice":false,"zero":false},"axis":null}}}
]},
{"data":{"name":"insetC"},"mark":{"type":"point","opacity":0},
 "encoding":{"x":{"field":"x","type":"quantitative","scale":{"domain":[0,10],"range":[377,479],"nice":false,"zero":false},"axis":{"orient":"bottom","offset":-365,"values":[0,5,10],"format":"d","title":"x","titleY":33.6,"titleBaseline":"middle","titleFontSize":14,"labelPadding":12.9}},
  "y":{"field":"t","type":"quantitative","scale":{"domain":[0,10],"range":[692,610.5],"nice":false,"zero":false},"axis":{"orient":"left","offset":-377,"values":[0,5,10],"format":"d","title":"t","titleX":-35.3,"titleBaseline":"middle","titleFontSize":14,"labelPadding":9}}}},
{"data":{"name":"insetC"},"mark":{"type":"point","opacity":0},
 "encoding":{"x":{"field":"x","type":"quantitative","scale":{"domain":[0,10],"range":[377,479],"nice":false,"zero":false},"axis":{"orient":"top","offset":-610.5,"values":[0,5,10],"labels":false,"title":null}},
  "y":{"field":"t","type":"quantitative","scale":{"domain":[0,10],"range":[692,610.5],"nice":false,"zero":false},"axis":{"orient":"right","offset":-683,"values":[0,5,10],"labels":false,"title":null}}}},
{"layer": [
 {"data":{"name":"insetC"},"mark":{"type":"line","color":"#0000ff","strokeWidth":3.5},
  "encoding":{"x":{"field":"x","type":"quantitative","scale":{"domain":[0,10],"range":[377,479],"nice":false,"zero":false},"axis":null},
   "y":{"field":"t","type":"quantitative","scale":{"domain":[0,10],"range":[692,610.5],"nice":false,"zero":false},"axis":null},
   "detail":{"field":"front"},"order":{"field":"t"}}},
 {"data":{"values":[{}]},"mark":{"type":"text","text":"Value of middle as a function of t","font":"DejaVu Serif","fontSize":13.4,"align":"center","baseline":"middle"},
  "encoding":{"x":{"datum":4.94,"type":"quantitative","scale":{"domain":[0,10],"range":[377,479],"nice":false,"zero":false},"axis":null},
   "y":{"datum":13.37,"type":"quantitative","scale":{"domain":[0,10],"range":[692,610.5],"nice":false,"zero":false},"axis":null}}},
 {"data":{"values":[{}]},"mark":{"type":"text","text":"×10³","font":"Liberation Sans","fontSize":13.5,"color":"#262626","align":"left","baseline":"middle"},
  "encoding":{"x":{"datum":0.13,"type":"quantitative","scale":{"domain":[0,10],"range":[377,479],"nice":false,"zero":false},"axis":null},
   "y":{"datum":11.04,"type":"quantitative","scale":{"domain":[0,10],"range":[692,610.5],"nice":false,"zero":false},"axis":null}}}
]},
{"data":{"values":[{}]},"mark":{"type":"text","text":"Journal Pre-proof","font":"Liberation Serif","fontSize":275,"angle":-58,"align":"center","baseline":"alphabetic","color":"#b0b0b0","opacity":0.45},
 "encoding":{"x":{"datum":13.06,"type":"quantitative","scale":{"domain":[0,10],"range":[65.5,504],"nice":false,"zero":false},"axis":null},
  "y":{"datum":0.629,"type":"quantitative","scale":{"domain":[-0.1,1],"range":[940.9,575.7],"nice":false,"zero":false},"axis":null}}}
],
"config": {
 "view": {"stroke": null},
 "axis": {"grid": false, "domainColor": "#262626", "domainWidth": 1.2, "domainCap": "square", "tickColor": "#262626", "tickWidth": 1.2, "tickSize": -5, "labelColor": "#262626", "labelFont": "Liberation Sans", "labelFontSize": 14, "labelFlush": false, "labelOverlap": false, "titleFont": "DejaVu Serif", "titleFontStyle": "italic", "titleFontWeight": "normal", "titleFontSize": 22, "titleColor": "#000000"},
 "text": {"font": "DejaVu Serif", "color": "#000000"},
 "line": {"strokeCap": "butt"}
}
}
